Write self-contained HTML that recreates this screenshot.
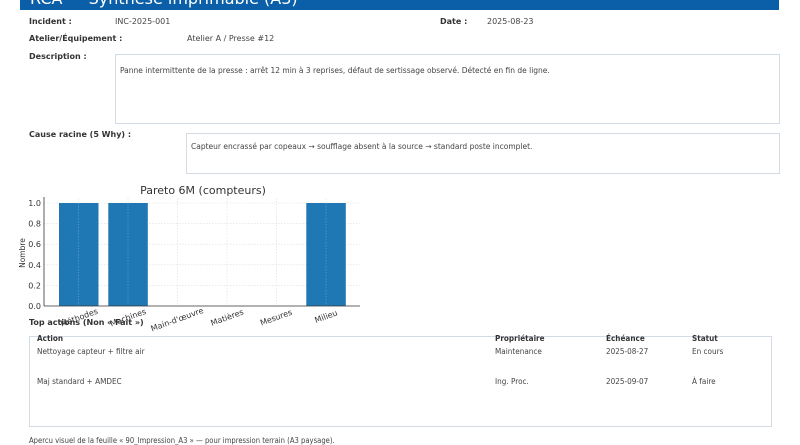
<!DOCTYPE html>
<html><head><meta charset="utf-8"><style>
body{margin:0;width:800px;height:445px;overflow:hidden;background:#fff;font-family:"DejaVu Sans","Liberation Sans",sans-serif;color:#333;position:relative}
.a{position:absolute;white-space:nowrap}
.b{font-weight:bold;font-size:8px;color:#333}
.v{font-size:8px;color:#444}
.box{position:absolute;border:1px solid #d3dbe5;background:#fff}
.t{font-size:7.5px;color:#444}
.c{font-family:"DejaVu Sans Condensed","DejaVu Sans",sans-serif;font-size:8.1px;color:#444}
</style></head><body>
<div class="a" style="left:20px;top:0;width:759px;height:10px;background:#0b5fa8"></div>
<div class="a" style="left:30px;top:-12px;font-size:16px;color:#fff;height:22px;overflow:hidden;line-height:22px">RCA — Synthèse imprimable (A3)</div>
<div class="a b" style="left:29px;top:17px">Incident :</div>
<div class="a v" style="left:115px;top:17px">INC-2025-001</div>
<div class="a b" style="left:440px;top:17px">Date :</div>
<div class="a v" style="left:487px;top:17px">2025-08-23</div>
<div class="a b" style="left:29px;top:34px">Atelier/Équipement :</div>
<div class="a v" style="left:187px;top:34px">Atelier A / Presse #12</div>
<div class="a b" style="left:29px;top:52px">Description :</div>
<div class="box" style="left:115px;top:54px;width:663px;height:68px"></div>
<div class="a t" style="left:120px;top:66px">Panne intermittente de la presse : arrêt 12 min à 3 reprises, défaut de sertissage observé. Détecté en fin de ligne.</div>
<div class="a b" style="left:29px;top:130px">Cause racine (5 Why) :</div>
<div class="box" style="left:186px;top:133px;width:592px;height:39px"></div>
<div class="a t" style="left:191px;top:142px">Capteur encrassé par copeaux → soufflage absent à la source → standard poste incomplet.</div>

<svg class="a" style="left:0;top:0" width="800" height="445" font-family="DejaVu Sans, sans-serif">
<text x="203" y="194" font-size="11" text-anchor="middle" fill="#333">Pareto 6M (compteurs)</text>
<g stroke="#ddd" stroke-width="0.6" stroke-dasharray="1.5,1.5">
<line x1="44" x2="360" y1="203" y2="203"/><line x1="44" x2="360" y1="223.6" y2="223.6"/><line x1="44" x2="360" y1="244.2" y2="244.2"/><line x1="44" x2="360" y1="264.8" y2="264.8"/><line x1="44" x2="360" y1="285.4" y2="285.4"/>
<line x1="78.5" x2="78.5" y1="198" y2="306"/><line x1="128" x2="128" y1="198" y2="306"/><line x1="177.5" x2="177.5" y1="198" y2="306"/><line x1="227" x2="227" y1="198" y2="306"/><line x1="276.5" x2="276.5" y1="198" y2="306"/><line x1="326" x2="326" y1="198" y2="306"/>
</g>
<g fill="#1f77b4"><rect x="59" y="203" width="39.5" height="103"/><rect x="108.3" y="203" width="39.5" height="103"/><rect x="306.3" y="203" width="39.5" height="103"/></g>
<g stroke="#ffffff" stroke-opacity="0.35" stroke-width="0.6" stroke-dasharray="1.5,1.5"><line x1="78.5" x2="78.5" y1="203" y2="306"/><line x1="128" x2="128" y1="203" y2="306"/><line x1="326" x2="326" y1="203" y2="306"/></g>
<g stroke="#333" stroke-width="0.8"><line x1="44" x2="44" y1="197" y2="306"/><line x1="44" x2="360" y1="306" y2="306"/></g>
<g font-size="8" fill="#333" text-anchor="end">
<text x="41" y="206">1.0</text><text x="41" y="226.5">0.8</text><text x="41" y="247">0.6</text><text x="41" y="268">0.4</text><text x="41" y="288.5">0.2</text><text x="41" y="309">0.0</text></g>
<text transform="translate(25,253) rotate(-90)" font-size="7.5" fill="#333" text-anchor="middle">Nombre</text>
<g font-size="8" fill="#333" text-anchor="middle">
<text transform="translate(80,320) rotate(-20)">Méthodes</text>
<text transform="translate(129,320) rotate(-20)">Machines</text>
<text transform="translate(178,322) rotate(-20)">Main-d'œuvre</text>
<text transform="translate(228,320) rotate(-20)">Matières</text>
<text transform="translate(277,320) rotate(-20)">Mesures</text>
<text transform="translate(327,319) rotate(-20)">Milieu</text>
</g>
</svg>

<div class="a b" style="left:29px;top:318px">Top actions (Non « Fait »)</div>
<div class="box" style="left:29px;top:336px;width:741px;height:89px"></div>
<div class="a c" style="left:37px;top:333px;font-weight:bold;color:#333">Action</div>
<div class="a c" style="left:495px;top:333px;font-weight:bold;color:#333">Propriétaire</div>
<div class="a c" style="left:606px;top:333px;font-weight:bold;color:#333">Échéance</div>
<div class="a c" style="left:692px;top:333px;font-weight:bold;color:#333">Statut</div>
<div class="a c" style="left:37px;top:346px">Nettoyage capteur + filtre air</div>
<div class="a c" style="left:495px;top:346px">Maintenance</div>
<div class="a c" style="left:606px;top:346px">2025-08-27</div>
<div class="a c" style="left:692px;top:346px">En cours</div>
<div class="a c" style="left:37px;top:376px">Maj standard + AMDEC</div>
<div class="a c" style="left:495px;top:376px">Ing. Proc.</div>
<div class="a c" style="left:606px;top:376px">2025-09-07</div>
<div class="a c" style="left:692px;top:376px">À faire</div>
<div class="a c" style="left:29px;top:436px;font-size:7.6px">Apercu visuel de la feuille « 90_Impression_A3 » — pour impression terrain (A3 paysage).</div>
</body></html>
